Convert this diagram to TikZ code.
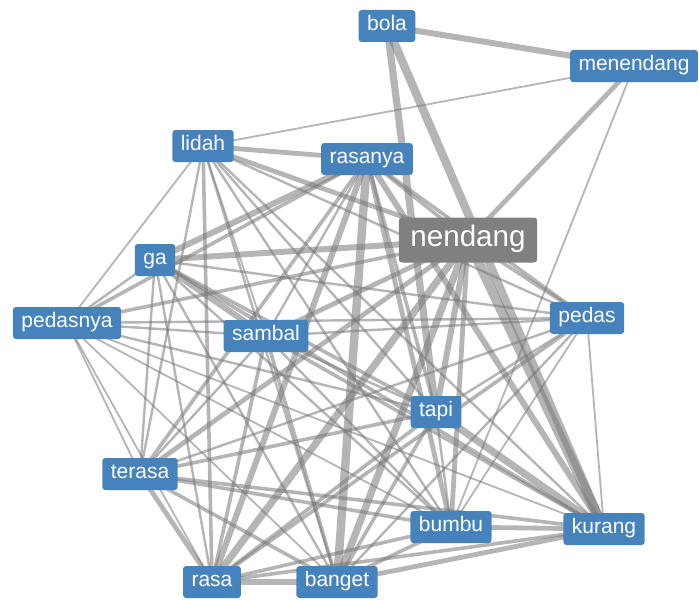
\documentclass[tikz,border=0pt]{standalone}
\usepackage{fontspec}
\setmainfont{Liberation Sans}
\definecolor{wordblue}{RGB}{70,131,189}
\definecolor{hubgray}{RGB}{128,128,128}
\definecolor{linkgray}{RGB}{120,120,120}

\begin{document}
\begin{tikzpicture}[
			x=0.5pt, y=-0.5pt,
			word/.style={rectangle, rounded corners=1.5pt, fill=wordblue, text=white, font=\fontsize{10.5}{12}\selectfont, minimum height=16pt, inner xsep=4.25pt, inner ysep=0pt},
			hub/.style={word, fill=hubgray, font=\fontsize{14.8}{16}\selectfont, minimum height=22.5pt, inner xsep=5.75pt},
			link/.style={draw=linkgray, draw opacity=0.55}
			]
			\useasboundingbox (0,0) rectangle (699,599);
			% kata-kata
			\coordinate (bola) at (387,26);
			\coordinate (menendang) at (634,66);
			\coordinate (lidah) at (203,146);
			\coordinate (rasanya) at (367,159);
			\coordinate (nendang) at (468,240);
			\coordinate (ga) at (155,260);
			\coordinate (pedasnya) at (67,323);
			\coordinate (sambal) at (266,336);
			\coordinate (pedas) at (587,318);
			\coordinate (tapi) at (436,412);
			\coordinate (terasa) at (140,474);
			\coordinate (bumbu) at (451,527);
			\coordinate (kurang) at (604,529);
			\coordinate (rasa) at (212,582);
			\coordinate (banget) at (337,582);
			% garis (tebal dalam px)
			\foreach \a/\b/\w in {
				bola/menendang/5, bola/tapi/6, bola/kurang/7, menendang/nendang/4,
				menendang/bumbu/1.5, menendang/lidah/1.5, pedas/kurang/1.5,
				lidah/rasanya/4, lidah/nendang/4, lidah/pedasnya/1.5, lidah/terasa/2,
				lidah/rasa/3, lidah/banget/2, lidah/tapi/2, lidah/bumbu/2,
				lidah/kurang/2, lidah/pedas/2, lidah/sambal/1.5,
				rasanya/ga/5, rasanya/pedasnya/3, rasanya/terasa/3, rasanya/rasa/5,
				rasanya/banget/7, rasanya/bumbu/4, rasanya/tapi/3, rasanya/kurang/5,
				rasanya/nendang/3, rasanya/sambal/2, rasanya/pedas/3,
				nendang/ga/5, nendang/pedasnya/3, nendang/sambal/4, nendang/terasa/4,
				nendang/rasa/6, nendang/banget/6, nendang/tapi/5, nendang/bumbu/4,
				nendang/kurang/8, nendang/pedas/3,
				ga/pedasnya/2, ga/sambal/5, ga/tapi/3, ga/terasa/2, ga/rasa/2,
				ga/banget/2, ga/bumbu/2, ga/kurang/3, ga/pedas/2,
				pedasnya/sambal/2, pedasnya/pedas/2, pedasnya/terasa/1.5,
				pedasnya/rasa/1.5, pedasnya/banget/1.5, pedasnya/tapi/2,
				pedasnya/bumbu/1.5, pedasnya/kurang/1.5,
				sambal/terasa/2, sambal/rasa/3, sambal/banget/3, sambal/tapi/2,
				sambal/bumbu/2, sambal/kurang/3, sambal/pedas/2,
				pedas/terasa/2, pedas/rasa/3, pedas/banget/2, pedas/tapi/2, pedas/bumbu/1.5,
				tapi/terasa/3, tapi/rasa/3, tapi/banget/3, tapi/bumbu/2, tapi/kurang/6,
				terasa/rasa/4, terasa/banget/3, terasa/bumbu/3, terasa/kurang/3,
				rasa/banget/5, rasa/bumbu/3, rasa/kurang/3,
				banget/bumbu/3, banget/kurang/4, bumbu/kurang/4}
			\draw[link, line width=\w*0.6pt] (\a) -- (\b);
			% kotak
			\foreach \n in {bola, menendang, lidah, rasanya, ga, pedasnya, sambal,
				pedas, tapi, terasa, bumbu, kurang, rasa, banget}
			\node[word] (\n-box) at (\n) {\strut\n};
			\node[hub] (nendang-box) at (nendang) {\strut nendang};
		\end{tikzpicture}
\end{document}
